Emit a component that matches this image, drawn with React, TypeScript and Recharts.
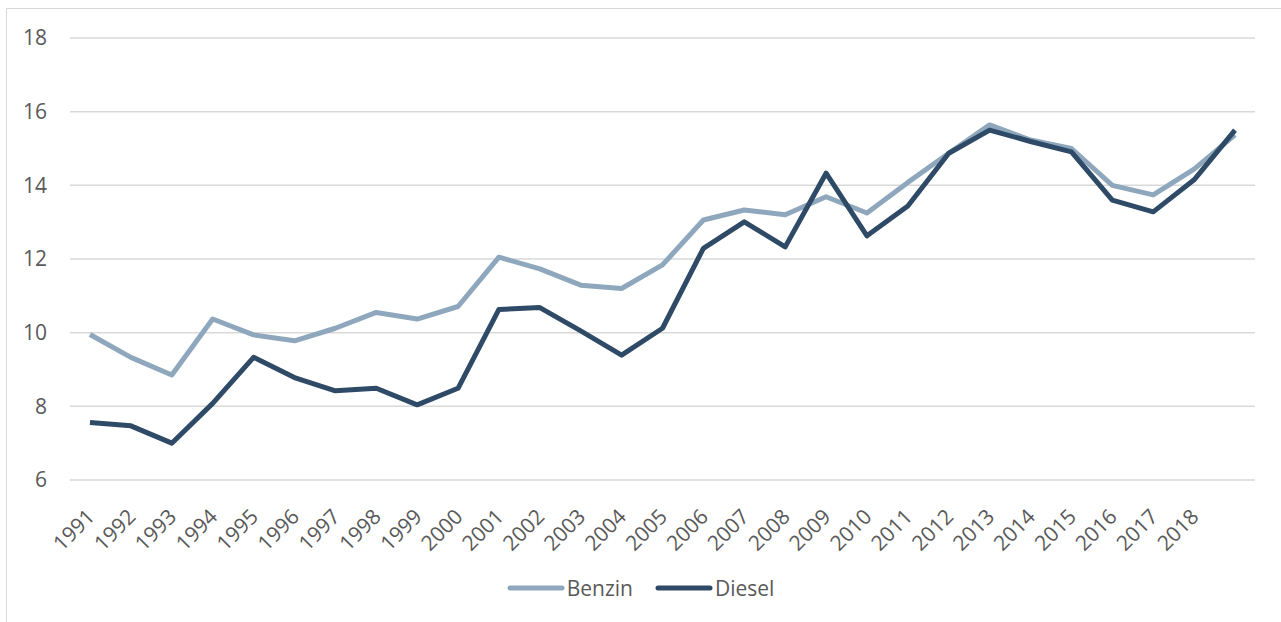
import React from 'react';
import { LineChart, Line, XAxis, YAxis, CartesianGrid, Legend } from 'recharts';

const years = ['1991','1992','1993','1994','1995','1996','1997','1998','1999','2000','2001','2002','2003','2004','2005','2006','2007','2008','2009','2010','2011','2012','2013','2014','2015','2016','2017','2018','2019'];
const tickLabels = ['1991','1992','1993','1994','1995','1996','1997','1998','1999','2000','2001','2002','2003','2004','2005','2006','2007','2008','2009','2010','2011','2012','2013','2014','2015','2016','2017','2018'];
const benzin = [9.95,9.33,8.85,10.37,9.94,9.78,10.12,10.55,10.37,10.71,12.05,11.73,11.29,11.2,11.84,13.06,13.33,13.2,13.69,13.25,14.08,14.87,15.64,15.23,15.0,14.0,13.74,14.44,15.37];
const diesel = [7.56,7.47,7.0,8.08,9.33,8.78,8.42,8.49,8.04,8.49,10.63,10.68,10.05,9.39,10.12,12.29,13.01,12.33,14.33,12.63,13.44,14.87,15.5,15.19,14.91,13.6,13.28,14.15,15.5];
const yTicks = [6,8,10,12,14,16,18];

const data = years.map((y, i) => ({ year: y, Benzin: benzin[i], Diesel: diesel[i] }));

const FONT = '"Open Sans", "Liberation Sans", sans-serif';
const TEXT = '#595959';
const BENZIN_C = '#8FA7BD';
const DIESEL_C = '#2E4A66';

const XTick = (props: any) => {
  const { x, y, index } = props;
  const label = tickLabels[index] ?? '';
  if (!label) return null;
  const ex = x + 6;
  const ey = y + 30;
  return (
    <text x={ex} y={ey} textAnchor="end" fill={TEXT} fontSize={21} fontFamily={FONT} transform={`rotate(-45 ${ex} ${ey})`}>
      {label}
    </text>
  );
};

const LegendContent = () => {
  const items = [
    { name: 'Benzin', color: BENZIN_C },
    { name: 'Diesel', color: DIESEL_C },
  ];
  return (
    <div style={{ display: 'flex', justifyContent: 'center', alignItems: 'center', fontFamily: FONT, fontSize: 21, color: TEXT }}>
      {items.map((it, i) => (
        <div key={it.name} style={{ display: 'flex', alignItems: 'center', marginLeft: i === 0 ? 0 : 22 }}>
          <svg width={58} height={10} style={{ marginRight: 2 }}>
            <line x1={3} y1={5} x2={55} y2={5} stroke={it.color} strokeWidth={5} strokeLinecap="round" />
          </svg>
          <span>{it.name}</span>
        </div>
      ))}
    </div>
  );
};

export default function App() {
  return (
    <div style={{ position: 'absolute', left: 0, top: 0, width: 1281, height: 622, overflow: 'hidden', background: '#fff' }}>
      <div style={{ position: 'absolute', left: 6, top: 8, width: 1300, height: 700, borderTop: '1.5px solid #d9d9d9', borderLeft: '1.5px solid #d9d9d9' }} />
      <div style={{ position: 'absolute', left: 0, top: 0 }}>
        <LineChart width={1281} height={622} data={data} margin={{ top: 38, right: 26, bottom: 62, left: 0 }}>
          <CartesianGrid vertical={false} stroke="#d9d9d9" strokeWidth={1.5} />
          <XAxis dataKey="year" type="category" interval={0} axisLine={false} tickLine={false} height={80}
            padding={{ left: 20, right: 20 }} tick={<XTick />} />
          <YAxis domain={[6, 18]} ticks={yTicks} width={70} axisLine={false} tickLine={false} tickSize={0} tickMargin={23}
            tick={{ fill: TEXT, fontSize: 21, fontFamily: FONT }} />
          <Legend layout="horizontal" verticalAlign="middle" align="center" content={<LegendContent />}
            wrapperStyle={{ top: 574, left: 0, width: 1281 }} />
          <Line type="linear" dataKey="Benzin" stroke={BENZIN_C} strokeWidth={5} dot={false} isAnimationActive={false} strokeLinejoin="round" />
          <Line type="linear" dataKey="Diesel" stroke={DIESEL_C} strokeWidth={5} dot={false} isAnimationActive={false} strokeLinejoin="round" />
        </LineChart>
      </div>
    </div>
  );
}
